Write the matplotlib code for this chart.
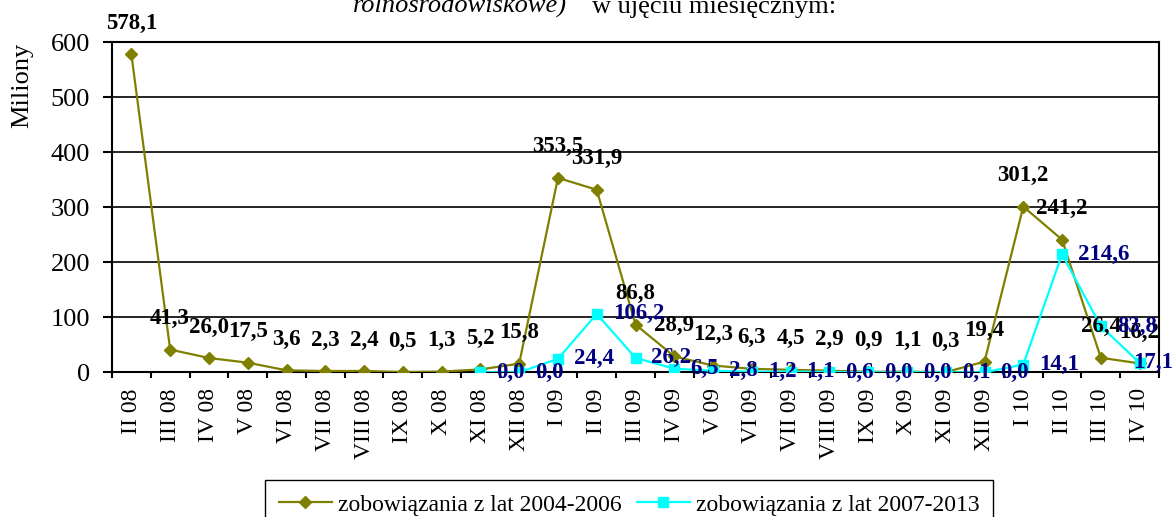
import numpy as np
import matplotlib
matplotlib.use('Agg')
import matplotlib.pyplot as plt
from matplotlib.transforms import blended_transform_factory

plt.rcParams['font.family'] = ['Liberation Serif', 'DejaVu Serif']

months = ['II 08', 'III 08', 'IV 08', 'V 08', 'VI 08', 'VII 08', 'VIII 08', 'IX 08',
          'X 08', 'XI 08', 'XII 08', 'I 09', 'II 09', 'III 09', 'IV 09', 'V 09',
          'VI 09', 'VII 09', 'VIII 09', 'IX 09', 'X 09', 'XI 09', 'XII 09',
          'I 10', 'II 10', 'III 10', 'IV 10']

# zobowiazania z lat 2004-2006 (all months)
s_2004 = [578.1, 41.3, 26.0, 17.5, 3.6, 2.3, 2.4, 0.5, 1.3, 5.2, 15.8, 353.5, 331.9,
          86.8, 28.9, 12.3, 6.3, 4.5, 2.9, 0.9, 1.1, 0.3, 19.4, 301.2, 241.2, 26.4, 16.2]

# zobowiazania z lat 2007-2013 (from XI 08 on)
months_2007 = months[9:]
s_2007 = [0.0, 0.0, 24.4, 106.2, 26.2, 6.5, 2.8, 1.2, 1.1, 0.6, 0.0, 0.0, 0.1, 0.0,
          14.1, 214.6, 83.8, 17.1]

label_1 = 'zobowiązania z lat 2004-2006'
label_2 = 'zobowiązania z lat 2007-2013'


def fmt(v):
    return f'{v:.1f}'.replace('.', ',')


W, H = 1173, 517
fig = plt.figure(figsize=(W / 100, H / 100), dpi=100)
ax = fig.add_axes([112 / W, 1 - 372.3 / H, 1047 / W, 330 / H])

x = np.arange(len(months))
x2 = np.array([months.index(m) for m in months_2007])

l1, = ax.plot(x, s_2004, color='#808000', marker='D', ms=6.5, lw=1.6, zorder=3,
              label=label_1)
l2, = ax.plot(x2, s_2007, color='#00FFFF', marker='s', ms=7.5, lw=1.6, zorder=4,
              label=label_2)

ax.set_xlim(-0.5, len(months) - 0.5)
ax.set_ylim(0, 600)
ax.set_yticks(range(0, 601, 100))
ax.yaxis.grid(True, color='black', lw=1.2)
ax.set_axisbelow(True)

ax.set_xticks(x)
ax.set_xticklabels(months, rotation=90, fontsize=17)
ax.set_xticks(np.arange(-0.5, len(months), 1), minor=True)
ax.tick_params(axis='x', which='major', length=0, pad=11.5)
ax.tick_params(axis='x', which='minor', length=4.3, width=1.5, direction='out')
ax.tick_params(axis='y', length=6.5, width=1.5, pad=9.4, labelsize=19)
for sp in ax.spines.values():
    sp.set_linewidth(1.5)

# data labels
for xi, v in zip(x, s_2004):
    ax.annotate(fmt(v), (xi, v), xytext=(0, 22.3), textcoords='offset points',
                ha='center', va='center', fontsize=16.5, fontweight='bold',
                color='black', annotation_clip=False, zorder=6)

edge_tr = blended_transform_factory(fig.transFigure, ax.transData)
for i, (xi, v) in enumerate(zip(x2, s_2007)):
    if i == len(s_2007) - 1:
        # pushed back inside the chart area, like Excel does
        ax.text(1.0, v, fmt(v), transform=edge_tr, ha='right', va='center',
                fontsize=16.5, fontweight='bold', color='#000080', zorder=6)
    else:
        ax.annotate(fmt(v), (xi, v), xytext=(11.5, 0), textcoords='offset points',
                    ha='left', va='center', fontsize=16.5, fontweight='bold',
                    color='#000080', annotation_clip=False, zorder=6)

fig.text(22 / W, 1 - 85 / H, 'Miliony', rotation=90, fontsize=19,
         ha='center', va='center')

# cut-off caption line at the very top
fig.text(353 / W, 1 - 13 / H, 'rolnośrodowiskowe)', fontsize=19, style='italic',
         ha='left', va='baseline')
fig.text(592 / W, 1 - 13 / H, 'w ujęciu miesięcznym:', fontsize=19,
         ha='left', va='baseline')

leg = fig.legend([l1, l2], [label_1, label_2], loc='upper center',
                 bbox_to_anchor=(629 / W, 1 - 480 / H), ncol=2, fontsize=17,
                 fancybox=False, edgecolor='black', framealpha=1,
                 handlelength=2.25, handletextpad=0.25, columnspacing=0.65,
                 borderpad=0.6, borderaxespad=0)
leg.get_frame().set_linewidth(1.0)

fig.savefig('out.png', dpi=100)
